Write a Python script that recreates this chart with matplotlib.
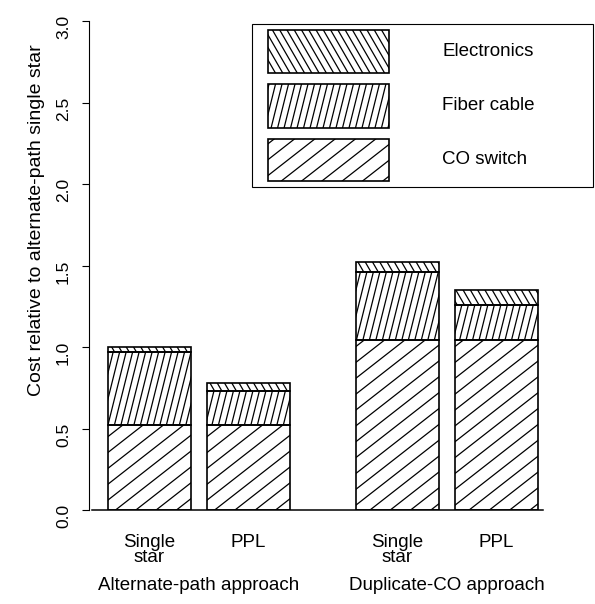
import matplotlib
matplotlib.use('Agg')
import matplotlib.pyplot as plt
import numpy as np
from matplotlib.patches import Rectangle
from matplotlib.collections import LineCollection
from matplotlib.transforms import IdentityTransform, blended_transform_factory

plt.rcParams['font.family'] = ['Liberation Sans', 'DejaVu Sans']

# data
bar_labels = ['Single\nstar', 'PPL', 'Single\nstar', 'PPL']
group_labels = ['Alternate-path approach', 'Duplicate-CO approach']
co_switch = [0.52, 0.52, 1.04, 1.04]
fiber_cable = [0.45, 0.21, 0.42, 0.22]
electronics = [0.03, 0.05, 0.06, 0.09]
yticks = [0.0, 0.5, 1.0, 1.5, 2.0, 2.5, 3.0]

xpos = [0, 1, 2.5, 3.5]
group_pos = [0.5, 3.0]
width = 0.84

# hatch: (angle in degrees, spacing in pixels)
hatch_co = (38, 12.5)
hatch_fiber = (76, 6.3)
hatch_elec = (-60, 6.3)

W, H = 595, 604
fig = plt.figure(figsize=(W / 100, H / 100), dpi=100)
ax = fig.add_axes([92 / W, (H - 510) / H, 451 / W, 489 / H])

bottom2 = [a + b for a, b in zip(co_switch, fiber_cable)]
b1 = ax.bar(xpos, co_switch, width, facecolor='none', edgecolor='black', linewidth=1.2, zorder=3)
b2 = ax.bar(xpos, fiber_cable, width, bottom=co_switch, facecolor='none', edgecolor='black', linewidth=1.2, zorder=3)
b3 = ax.bar(xpos, electronics, width, bottom=bottom2, facecolor='none', edgecolor='black', linewidth=1.2, zorder=3)

ax.set_xlim(-0.58, 3.97)
ax.set_ylim(0, 3.0)
ax.set_yticks(yticks)
ax.set_yticklabels(['%.1f' % v for v in yticks])
ax.tick_params(axis='y', length=5, width=0.8, pad=8, labelrotation=90, labelsize=12.5)
for t in ax.get_yticklabels():
    t.set_va('center')
ax.set_xticks(xpos)
ax.set_xticklabels(bar_labels, linespacing=0.9)
ax.tick_params(axis='x', length=0, pad=17, labelsize=13.5)

ax.spines['top'].set_visible(False)
ax.spines['right'].set_visible(False)
ax.spines['left'].set_position(('outward', 2.2))
ax.spines['left'].set_linewidth(0.8)
ax.spines['bottom'].set_linewidth(1.1)

ax.set_ylabel('Cost relative to alternate-path single star', fontsize=14)
ax.yaxis.label.set(va='center', rotation_mode='anchor')
ax.yaxis.set_label_coords(-0.124, 0.593)

tr = blended_transform_factory(ax.transData, ax.transAxes)
for gx, gl in zip(group_pos, group_labels):
    ax.text(gx, -0.137, gl, transform=tr, ha='center', va='top', fontsize=13.5)


def px(x, y):
    return (x / W, (H - y) / H)


# legend box
lx0, ly0 = px(252, 187)
lx1, ly1 = px(593, 24)
fig.add_artist(Rectangle((lx0, ly0), lx1 - lx0, ly1 - ly0, transform=fig.transFigure,
                         facecolor='white', edgecolor='black', linewidth=0.8, zorder=1))
leg_items = [('Electronics', 30, 73, hatch_elec),
             ('Fiber cable', 84, 128, hatch_fiber),
             ('CO switch', 139, 181, hatch_co)]
leg_patches = []
for name, top, bot, hs in leg_items:
    x0, y0 = px(268, bot)
    x1, y1 = px(389, top)
    p = Rectangle((x0, y0), x1 - x0, y1 - y0, transform=fig.transFigure,
                  facecolor='none', edgecolor='black', linewidth=1.2, zorder=4)
    fig.add_artist(p)
    leg_patches.append((p, hs))
    fig.text(442 / W, (H - (top + bot) / 2) / H, name, ha='left', va='center', fontsize=13.5)

fig.canvas.draw()
renderer = fig.canvas.get_renderer()


def add_hatch(patch, style):
    angle, spacing = style
    bb = patch.get_window_extent(renderer)
    cx, cy = (bb.x0 + bb.x1) / 2, (bb.y0 + bb.y1) / 2
    r = np.hypot(bb.width, bb.height) / 2 + 2
    a = np.radians(angle)
    d = np.array([np.cos(a), np.sin(a)])
    n = np.array([-np.sin(a), np.cos(a)])
    kmax = int(r // spacing) + 2
    segs = []
    for k in range(-kmax, kmax + 1):
        c = np.array([cx, cy]) + k * spacing * n
        segs.append([c - r * d, c + r * d])
    lc = LineCollection(segs, colors='black', linewidths=0.9, transform=IdentityTransform(), zorder=2.5)
    lc.set_clip_path(patch)
    fig.add_artist(lc)


for p in b1.patches:
    add_hatch(p, hatch_co)
for p in b2.patches:
    add_hatch(p, hatch_fiber)
for p in b3.patches:
    add_hatch(p, hatch_elec)
for p, hs in leg_patches:
    add_hatch(p, hs)

fig.savefig('out.png', dpi=100)
plt.close(fig)
